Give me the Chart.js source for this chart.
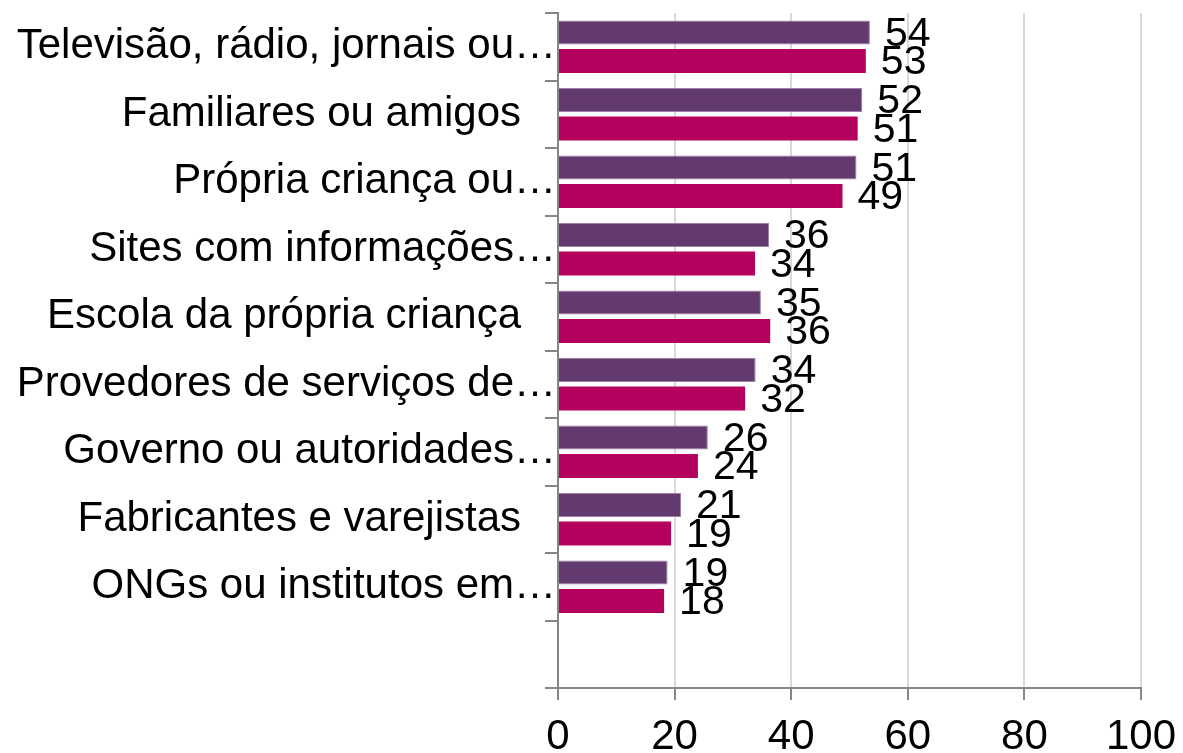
<!DOCTYPE html>
<html>
<head>
<meta charset="utf-8">
<script src="https://cdn.jsdelivr.net/npm/chart.js@4.4.1/dist/chart.umd.min.js"></script>
<style>
  html, body { margin: 0; padding: 0; background: #fff; }
  #wrap { width: 1183px; height: 753px; position: relative; }
</style>
</head>
<body>
<div id="wrap"><canvas id="chart"></canvas></div>
<script>
const categories = [
  'Televisão, rádio, jornais ou…',
  'Familiares ou amigos   ',
  'Própria criança ou…',
  'Sites com informações…',
  'Escola da própria criança   ',
  'Provedores de serviços de…',
  'Governo ou autoridades…',
  'Fabricantes e varejistas   ',
  'ONGs ou institutos em…',
  ''
];
const seriesA = [53.5, 52.2, 51.2, 36.2, 34.8, 33.9, 25.7, 21.1, 18.8, null];
const seriesB = [52.8, 51.4, 48.8, 33.8, 36.4, 32.1, 24.0, 19.4, 18.2, null];
const xTicks = [0, 20, 40, 60, 80, 100];

const purple = '#623A6F';
const pink = '#B5005E';
const axisGray = '#868686';
const gridGray = '#d9d9d9';
const fontFamily = "'Liberation Sans', Arial, sans-serif";

// draws the value next to the end of each bar
const valueLabels = {
  id: 'valueLabels',
  afterDatasetsDraw(chart) {
    const ctx = chart.ctx;
    ctx.save();
    ctx.font = '41px ' + fontFamily;
    ctx.fillStyle = '#000';
    ctx.textAlign = 'left';
    ctx.textBaseline = 'middle';
    chart.data.datasets.forEach((ds, di) => {
      const meta = chart.getDatasetMeta(di);
      meta.data.forEach((bar, i) => {
        const v = ds.data[i];
        if (v === null || v === undefined) return;
        ctx.fillText(String(Math.round(v)), bar.x + 15, bar.y + 2);
      });
    });
    ctx.restore();
  }
};

new Chart(document.getElementById('chart'), {
  type: 'bar',
  data: {
    labels: categories,
    datasets: [
      {
        label: 'A',
        data: seriesA,
        backgroundColor: purple,
        borderColor: '#9c80a6',
        borderWidth: 1,
        categoryPercentage: 0.845,
        barPercentage: 0.84
      },
      {
        label: 'B',
        data: seriesB,
        backgroundColor: pink,
        borderWidth: 0,
        categoryPercentage: 0.845,
        barPercentage: 0.84
      }
    ]
  },
  options: {
    indexAxis: 'y',
    responsive: true,
    maintainAspectRatio: false,
    animation: false,
    layout: { padding: { top: 13, right: 42, left: 0, bottom: 0 } },
    plugins: {
      legend: { display: false },
      tooltip: { enabled: false }
    },
    scales: {
      x: {
        min: 0,
        max: 100,
        afterBuildTicks: (scale) => { scale.ticks = xTicks.map(v => ({ value: v })); },
        afterFit: (scale) => {
          scale.height = 65;
          // the "100" label may hang over the right padding
          scale.paddingLeft = 0;
          scale.paddingRight = 0;
        },
        grid: { color: gridGray, lineWidth: 2, tickColor: axisGray, tickLength: 12 },
        border: { color: axisGray, width: 2 },
        ticks: { color: '#000', padding: 16, font: { family: fontFamily, size: 42, lineHeight: 1 } }
      },
      y: {
        afterFit: (scale) => { scale.width = 558; },
        grid: { offset: true, drawOnChartArea: false, tickColor: axisGray, tickLength: 13, lineWidth: 2 },
        border: { color: axisGray, width: 2 },
        ticks: { color: '#000', padding: -11, autoSkip: false, font: { family: fontFamily, size: 42, lineHeight: 0.5 } }
      }
    }
  },
  plugins: [valueLabels]
});
</script>
</body>
</html>
